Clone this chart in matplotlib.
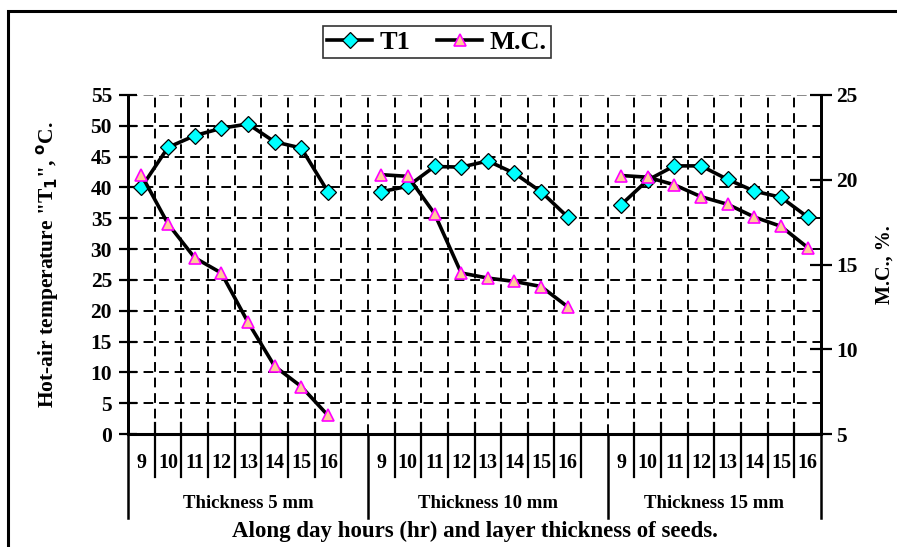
import numpy as np
import matplotlib.pyplot as plt
from matplotlib.lines import Line2D
from matplotlib.patches import Rectangle

plt.rcParams['font.family'] = ['Liberation Serif', 'DejaVu Serif']
plt.rcParams['font.weight'] = 'bold'

hours = ['9', '10', '11', '12', '13', '14', '15', '16']
groups = ['Thickness 5 mm', 'Thickness 10 mm', 'Thickness 15 mm']

# hot-air temperature T1 (left axis, deg C)
t1_5mm = [40, 46.5, 48.4, 49.6, 50.3, 47.4, 46.4, 39.3]
t1_10mm = [39.3, 40.2, 43.4, 43.3, 44.3, 42.3, 39.3, 35.2]
t1_15mm = [37.2, 41.2, 43.5, 43.5, 41.3, 39.4, 38.4, 35.2]

# moisture content M.C. (right axis, %)
mc_5mm = [20.3, 17.4, 15.4, 14.5, 11.6, 9.0, 7.8, 6.1]
mc_10mm = [20.3, 20.2, 18.0, 14.5, 14.2, 14.0, 13.7, 12.5]
mc_15mm = [20.25, 20.15, 19.7, 19.0, 18.55, 17.8, 17.25, 16.0]

t1_all = [t1_5mm, t1_10mm, t1_15mm]
mc_all = [mc_5mm, mc_10mm, mc_15mm]

W, H = 897, 547
fig = plt.figure(figsize=(W / 100, H / 100), dpi=100)
L, R, T, B = 128, 821, 95, 434
ax = fig.add_axes([L / W, 1 - B / H, (R - L) / W, (B - T) / H])
ax2 = ax.twinx()

n = len(hours)
step = n + 1
ncat = step * len(groups) - 1
ax.set_xlim(-0.5, ncat - 0.5)
ax.set_ylim(0, 55)
ax2.set_ylim(5, 25)

# grid
for yv in np.arange(5, 56, 5):
    ax.axhline(yv, color='black' if yv < 55 else '#888888', lw=1.4,
               ls=(0, (5, 3)), zorder=0)
for xb in np.arange(0.5, ncat - 1, 1):
    ax.axvline(xb, color='black', lw=1.4, ls=(0, (5, 3)), zorder=0)

t1_line = mc_line = None
for g in range(len(groups)):
    xs = np.arange(n) + g * step
    t1_line, = ax.plot(xs, t1_all[g], color='black', lw=2.6, marker='D', ms=8.5,
                       mfc='#00FFFF', mec='black', mew=0.9, zorder=3)
    mc_line, = ax2.plot(xs, mc_all[g], color='black', lw=2.6, marker='^', ms=9,
                        mfc='#FFCC99', mec='#FF00FF', mew=1.2, zorder=3)

for a in (ax, ax2):
    a.spines['top'].set_visible(False)
    for s in a.spines.values():
        s.set_linewidth(2)
ax.spines['bottom'].set_linewidth(2.2)

ax.set_yticks(np.arange(0, 56, 5))
ax.tick_params(axis='y', direction='inout', length=13, width=1.6, labelsize=15.5, pad=5)
ax2.set_yticks(np.arange(5, 26, 5))
ax2.tick_params(axis='y', direction='inout', length=16, width=1.6, labelsize=15.5, pad=3)
ax.set_xticks([])
for lab in ax.get_yticklabels() + ax2.get_yticklabels():
    lab.set_fontweight('bold')

ax.set_ylabel('Hot-air temperature "T$_\\mathbf{1}$", $^\\mathrm{o}$C.', fontsize=15.5,
              fontweight='bold', labelpad=21)
ax2.set_ylabel('M.C., %.', fontsize=14.5, fontweight='bold', labelpad=12)

# category axis below the plot
ah = B - T
def yfrac(py):
    return (B - py) / ah

tr = ax.get_xaxis_transform()
for g in range(len(groups)):
    for i, h in enumerate(hours):
        x = g * step + i
        ax.text(x, yfrac(463), h, transform=tr, ha='center', va='center',
                fontsize=14.5, fontweight='bold')
    for i in range(1, n + 1):
        xb = g * step + i - 0.5
        if g == len(groups) - 1 and i == n:
            continue
        ax.add_line(Line2D([xb, xb], [yfrac(423), yfrac(477)], transform=tr,
                           color='black', lw=1.6, clip_on=False))
    x0 = g * step - 0.5
    x1 = min(g * step + step - 0.5, ncat - 0.5)
    ax.text((x0 + x1) / 2, yfrac(504), groups[g], transform=tr, ha='center',
            va='center', fontsize=13.5, fontweight='bold')
for xb in [-0.5, step - 0.5, 2 * step - 0.5, ncat - 0.5]:
    ax.add_line(Line2D([xb, xb], [0, yfrac(518)], transform=tr, color='black',
                       lw=1.8, clip_on=False))

fig.text((L + R) / 2 / W, 1 - 531 / H, 'Along day hours (hr) and layer thickness of seeds.',
         ha='center', va='center', fontsize=16.5, fontweight='bold')

leg = fig.legend([t1_line, mc_line], ['T1', 'M.C.'], loc='center',
                 bbox_to_anchor=(437 / W, 1 - 42 / H), ncol=2, frameon=True,
                 fancybox=False, edgecolor='black', prop={'size': 19, 'weight': 'bold'},
                 handlelength=1.7, columnspacing=1.0, borderpad=0.15, handletextpad=0.3)
leg.get_frame().set_linewidth(1.2)

fig.patches.append(Rectangle((8 / W, -0.1), 1.1, 1.1 - 11 / H, transform=fig.transFigure,
                             fill=False, edgecolor='black', lw=2.2))

fig.savefig('out.png', dpi=100)
